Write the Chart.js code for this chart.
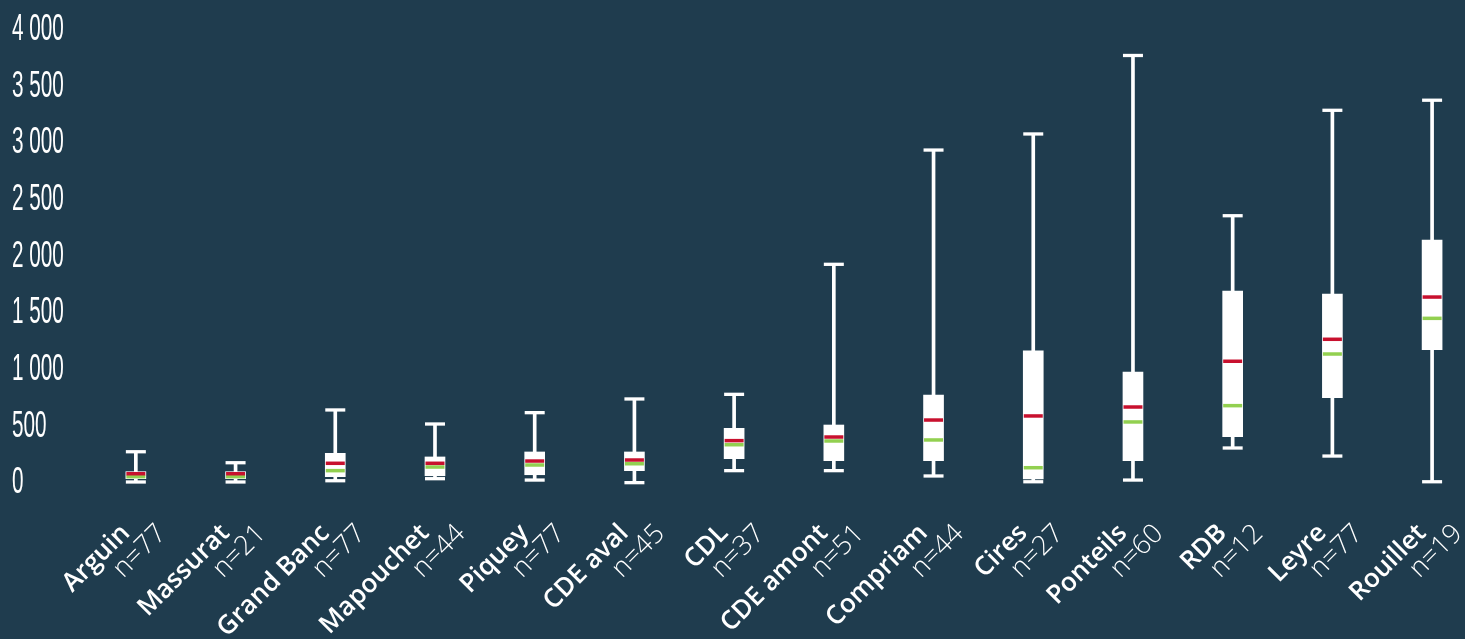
<!DOCTYPE html>
<html lang="fr">
<head>
<meta charset="utf-8">
<title>Distribution par site</title>
<script src="https://cdn.jsdelivr.net/npm/chart.js@4.4.1/dist/chart.umd.min.js"></script>
<style>
  html, body { margin: 0; padding: 0; background: #1f3c4e; }
  #wrap { position: relative; width: 1465px; height: 639px; }
</style>
</head>
<body>
<div id="wrap"><canvas id="chart"></canvas></div>
<script>
// Sites, sample sizes and the five-number summaries (plus mean) per site
const sites = ['Arguin', 'Massurat', 'Grand Banc', 'Mapouchet', 'Piquey', 'CDE aval', 'CDL',
               'CDE amont', 'Compriam', 'Cires', 'Ponteils', 'RDB', 'Leyre', 'Rouillet'];
const sampleSizes = [77, 21, 77, 44, 77, 45, 37, 51, 44, 27, 60, 12, 77, 19];

const minimum = [9, 9, 20, 38, 26, 3, 109, 109, 62, 11, 26, 309, 238, 11];
const q1      = [38, 38, 56, 64, 73, 109, 215, 197, 197, 35, 197, 409, 753, 1177];
const median  = [56, 56, 109, 141, 159, 170, 338, 371, 380, 135, 539, 683, 1139, 1454];
const mean    = [82, 82, 174, 174, 194, 203, 374, 406, 556, 592, 671, 1075, 1269, 1642];
const q3      = [100, 100, 262, 230, 274, 274, 483, 512, 777, 1166, 980, 1695, 1669, 2146];
const maximum = [276, 179, 645, 521, 621, 742, 783, 1931, 2940, 3082, 3775, 2360, 3291, 3380];

const yTickValues = [0, 500, 1000, 1500, 2000, 2500, 3000, 3500, 4000];
const yTickLabels = ['0', '500', '1 000', '1 500', '2 000', '2 500', '3 000', '3 500', '4 000'];

const BG = '#1f3c4e';
const WHITE = '#ffffff';
const MEAN_COLOR = '#c8102e';
const MEDIAN_COLOR = '#92d050';

const points = arr => arr.map((v, i) => ({ x: i, y: v }));
const spans = (lo, hi) => lo.map((v, i) => ({ x: i, y: [v, hi[i]] }));

// Fill the canvas with the dark background
const paintBackground = {
  id: 'paintBackground',
  beforeDraw(chart) {
    const { ctx, width, height } = chart;
    ctx.save();
    ctx.fillStyle = BG;
    ctx.fillRect(0, 0, width, height);
    ctx.restore();
  }
};

// Condensed look for the value axis labels: squeeze them horizontally
const Y_SQUEEZE = 0.56;
const condensedYLabels = {
  id: 'condensedYLabels',
  afterUpdate(chart) {
    const s = chart.scales.y;
    if (!s || s._condensed) return;
    const original = s.drawLabels.bind(s);
    s.drawLabels = function (area) {
      const ctx = this.ctx;
      ctx.save();
      ctx.translate(this.left, 0);
      ctx.scale(Y_SQUEEZE, 1);
      ctx.translate(-this.left, 0);
      original(area);
      ctx.restore();
    };
    s._condensed = true;
  }
};

// Fix an axis box to a given size; its labels may spill outside of it
const settle = (prop, size) => s => {
  s[prop] = size;
  s.paddingLeft = s.paddingRight = s.paddingTop = s.paddingBottom = 0;
  if (s._margins) { s._margins.left = s._margins.right = s._margins.top = s._margins.bottom = 0; }
  s._computeLabelArea = () => undefined;
};

const siteTicks = s => { s.ticks = sites.map((_, i) => ({ value: i })); };

new Chart(document.getElementById('chart'), {
  type: 'bar',
  data: {
    datasets: [
      {
        type: 'scatter', label: 'Moyenne', data: points(mean), order: 0,
        pointStyle: 'line', pointRadius: 9.5, pointBorderWidth: 3.5,
        pointBorderColor: MEAN_COLOR, pointBackgroundColor: MEAN_COLOR, clip: false
      },
      {
        type: 'scatter', label: 'Médiane', data: points(median), order: 0,
        pointStyle: 'line', pointRadius: 9.5, pointBorderWidth: 3.5,
        pointBorderColor: MEDIAN_COLOR, pointBackgroundColor: MEDIAN_COLOR, clip: false
      },
      {
        label: 'Q1–Q3', data: spans(q1, q3), order: 1,
        backgroundColor: WHITE, borderWidth: 0, grouped: false,
        barThickness: 20, maxBarThickness: 20, clip: false
      },
      {
        type: 'scatter', label: 'Min / Max', data: points(minimum).concat(points(maximum)), order: 2,
        pointStyle: 'line', pointRadius: 10, pointBorderWidth: 3.3,
        pointBorderColor: WHITE, pointBackgroundColor: WHITE, clip: false
      },
      {
        label: 'Étendue', data: spans(minimum, maximum), order: 3,
        backgroundColor: WHITE, borderWidth: 0, grouped: false,
        barThickness: 3, maxBarThickness: 3, clip: false
      }
    ]
  },
  options: {
    responsive: true,
    maintainAspectRatio: false,
    devicePixelRatio: 1,
    animation: false,
    events: [],
    layout: { autoPadding: false, padding: { left: 12, top: 30, right: 0, bottom: 0 } },
    plugins: { legend: { display: false }, tooltip: { enabled: false }, title: { display: false } },
    scales: {
      x: {
        type: 'linear', offset: false, min: -0.5, max: 13.33, weight: 0,
        grid: { display: false, drawTicks: false }, border: { display: false },
        afterBuildTicks: siteTicks,
        afterFit: settle('height', 1),
        ticks: {
          autoSkip: false, minRotation: 45, maxRotation: 45, padding: 35, labelOffset: -10,
          color: WHITE, font: { family: '"Open Sans"', size: 26, weight: '600', lineHeight: 1.2 },
          callback: v => sites[Math.round(v)]
        }
      },
      xn: {
        type: 'linear', position: 'bottom', offset: false, min: -0.5, max: 13.33, weight: 1,
        grid: { display: false, drawTicks: false }, border: { display: false },
        afterBuildTicks: siteTicks,
        afterFit: settle('height', 155),
        ticks: {
          autoSkip: false, minRotation: 45, maxRotation: 45, padding: 34, labelOffset: 26,
          color: WHITE, font: { family: '"Open Sans"', size: 27, weight: '300', lineHeight: 1.2 },
          callback: v => 'n=' + sampleSizes[Math.round(v)]
        }
      },
      y: {
        type: 'linear', min: 0, max: 4000,
        grid: { display: false, drawTicks: false }, border: { display: false },
        afterBuildTicks: s => { s.ticks = yTickValues.map(v => ({ value: v })); },
        afterFit: settle('width', 74),
        ticks: {
          crossAlign: 'far', padding: 0, color: WHITE,
          font: { family: '"Liberation Sans"', size: 37 },
          callback: (v, i) => yTickLabels[i]
        }
      }
    }
  },
  plugins: [paintBackground, condensedYLabels]
});
</script>
</body>
</html>
